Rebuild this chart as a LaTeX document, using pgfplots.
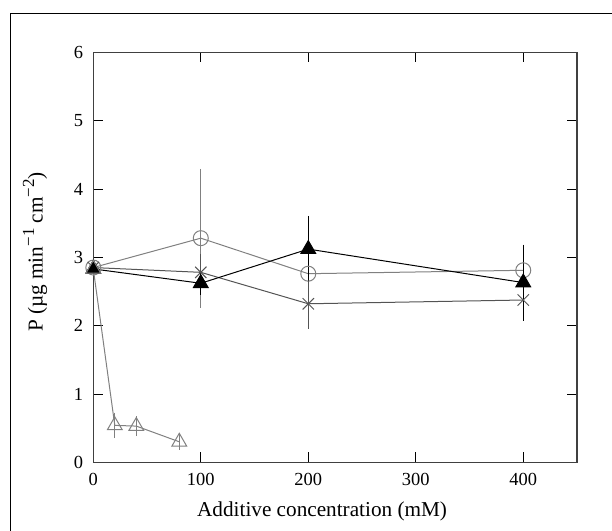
\documentclass[border=0pt]{standalone}
\usepackage{pgfplots}
\pgfplotsset{compat=1.18}
\usepackage{fontspec}
\setmainfont{Liberation Serif}
\definecolor{sergrey}{gray}{0.5}
\definecolor{serdark}{gray}{0.33}
\newcommand{\supx}[1]{\raisebox{0.4em}{\fontsize{17}{17}\selectfont #1}}
\newcommand{\tl}[1]{\fontsize{18.5}{20}\selectfont #1}
\begin{document}
\begin{tikzpicture}
\useasboundingbox (0,0) rectangle (612bp,531bp);
\draw[line width=0.9bp, black] (10.3bp,0) -- (10.3bp,517.7bp) -- (612bp,517.7bp);
\begin{axis}[
  at={(93.3bp,68.7bp)}, anchor=south west,
  scale only axis, width=483.7bp, height=410bp,
  xmin=0, xmax=450, ymin=0, ymax=6,
  xtick={0,100,200,300,400}, ytick={0,1,2,3,4,5,6},
  xticklabels={\tl{0},\tl{100},\tl{200},\tl{300},\tl{400}},
  yticklabels={\tl{0},\tl{1},\tl{2},\tl{3},\tl{4},\tl{5},\tl{6}},
  tick align=inside, major tick length=10bp,
  axis line style={line width=1.1bp, black!75},
  tick style={line width=0.9bp, black},
  xticklabel style={anchor=north, inner sep=0pt, yshift=-11bp},
  yticklabel style={anchor=east, inner sep=0pt, xshift=-10bp},
  xlabel={Additive concentration (mM)},
  ylabel={P (µg min\supx{−1} cm\supx{−2})},
  xlabel style={font=\fontsize{21.3}{24}\selectfont, at={(axis description cs:0.473,-0.1327)}, anchor=base, inner sep=0pt},
  ylabel style={font=\fontsize{21.3}{24}\selectfont, at={(axis description cs:-0.1205,0.513)}, anchor=center, inner sep=0pt},
  clip=false,
  error bars/error bar style={line width=0.9bp},
  error bars/error mark options={mark size=4.5bp, line width=0.9bp},
]
% open circles
\addplot[color=sergrey, line width=1bp, mark=o, mark size=7.5bp,
  error bars/.cd, y dir=both, y explicit]
  coordinates {(0,2.85) +- (0,0.03) (100,3.28) +- (0,0.95) (200,2.76) +- (0,0.15) (400,2.81) +- (0,0.17)};
% crosses
\addplot[color=serdark, line width=1bp, mark=x, mark size=8bp,
  error bars/.cd, y dir=both, y explicit]
  coordinates {(0,2.85) +- (0,0.03) (100,2.78) +- (0,0.2) (200,2.32) +- (0,0.3) (400,2.375) +- (0,0.18)};
% filled triangles
\addplot[color=black, line width=1bp, mark=triangle*, mark size=8.5bp,
  error bars/.cd, y dir=both, y explicit]
  coordinates {(0,2.83) +- (0,0.03) (100,2.62) +- (0,0.1) (200,3.12) +- (0,0.42) (400,2.63) +- (0,0.49)};
% open triangles
\addplot[color=sergrey, line width=1bp, mark=triangle, mark size=8.5bp,
  error bars/.cd, y dir=both, y explicit]
  coordinates {(0,2.83) +- (0,0.03) (20,0.54) +- (0,0.12) (40,0.53) +- (0,0.08) (80,0.30) +- (0,0.05)};
\end{axis}
\end{tikzpicture}
\end{document}
